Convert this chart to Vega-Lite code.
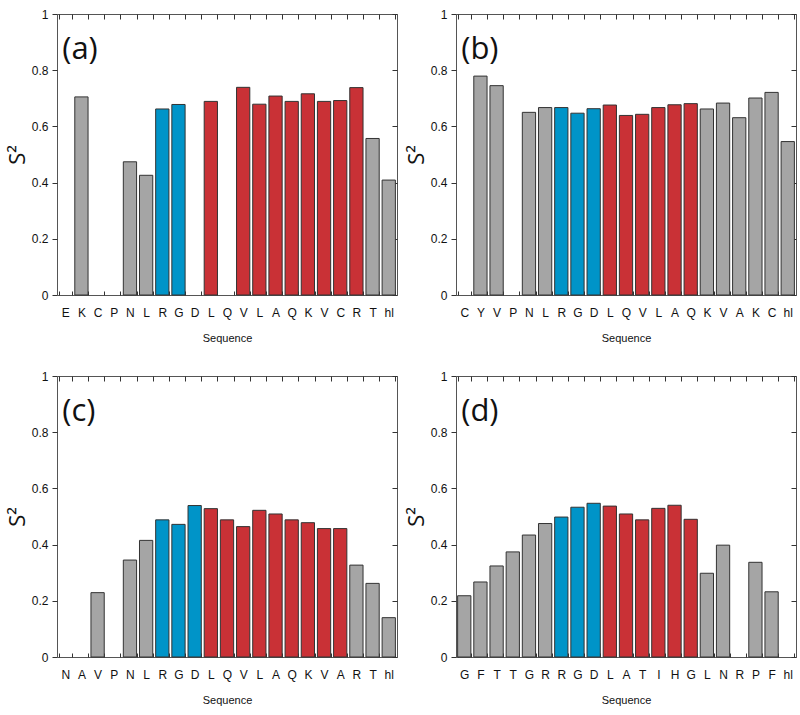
{
  "$schema": "https://vega.github.io/schema/vega-lite/v6.json",
  "padding": {"left": 5, "top": 7, "right": 5, "bottom": 5},
  "background": "white",
  "config": {
    "font": "Liberation Sans",
    "view": {"stroke": "#555555", "strokeWidth": 1},
    "axis": {"domain": false, "grid": false, "ticks": true, "tickColor": "#333333", "tickWidth": 1, "tickOpacity": 1, "zindex": 1, "labelColor": "#111111", "labelFontSize": 12, "titleFontWeight": "normal", "titleColor": "#111111"},
    "concat": {"spacing": 6}
  },
  "data": {"values": [
    {"panel": "a", "key": "01E", "S2": null, "type": "gray"},
    {"panel": "a", "key": "02K", "S2": 0.705, "type": "gray"},
    {"panel": "a", "key": "03C", "S2": null, "type": "gray"},
    {"panel": "a", "key": "04P", "S2": null, "type": "gray"},
    {"panel": "a", "key": "05N", "S2": 0.474, "type": "gray"},
    {"panel": "a", "key": "06L", "S2": 0.426, "type": "gray"},
    {"panel": "a", "key": "07R", "S2": 0.662, "type": "blue"},
    {"panel": "a", "key": "08G", "S2": 0.678, "type": "blue"},
    {"panel": "a", "key": "09D", "S2": null, "type": "gray"},
    {"panel": "a", "key": "10L", "S2": 0.689, "type": "red"},
    {"panel": "a", "key": "11Q", "S2": null, "type": "gray"},
    {"panel": "a", "key": "12V", "S2": 0.739, "type": "red"},
    {"panel": "a", "key": "13L", "S2": 0.679, "type": "red"},
    {"panel": "a", "key": "14A", "S2": 0.708, "type": "red"},
    {"panel": "a", "key": "15Q", "S2": 0.689, "type": "red"},
    {"panel": "a", "key": "16K", "S2": 0.716, "type": "red"},
    {"panel": "a", "key": "17V", "S2": 0.689, "type": "red"},
    {"panel": "a", "key": "18C", "S2": 0.692, "type": "red"},
    {"panel": "a", "key": "19R", "S2": 0.738, "type": "red"},
    {"panel": "a", "key": "20T", "S2": 0.557, "type": "gray"},
    {"panel": "a", "key": "21hl", "S2": 0.409, "type": "gray"},

    {"panel": "b", "key": "01C", "S2": null, "type": "gray"},
    {"panel": "b", "key": "02Y", "S2": 0.779, "type": "gray"},
    {"panel": "b", "key": "03V", "S2": 0.745, "type": "gray"},
    {"panel": "b", "key": "04P", "S2": null, "type": "gray"},
    {"panel": "b", "key": "05N", "S2": 0.650, "type": "gray"},
    {"panel": "b", "key": "06L", "S2": 0.667, "type": "gray"},
    {"panel": "b", "key": "07R", "S2": 0.667, "type": "blue"},
    {"panel": "b", "key": "08G", "S2": 0.647, "type": "blue"},
    {"panel": "b", "key": "09D", "S2": 0.663, "type": "blue"},
    {"panel": "b", "key": "10L", "S2": 0.676, "type": "red"},
    {"panel": "b", "key": "11Q", "S2": 0.639, "type": "red"},
    {"panel": "b", "key": "12V", "S2": 0.643, "type": "red"},
    {"panel": "b", "key": "13L", "S2": 0.667, "type": "red"},
    {"panel": "b", "key": "14A", "S2": 0.677, "type": "red"},
    {"panel": "b", "key": "15Q", "S2": 0.681, "type": "red"},
    {"panel": "b", "key": "16K", "S2": 0.662, "type": "gray"},
    {"panel": "b", "key": "17V", "S2": 0.683, "type": "gray"},
    {"panel": "b", "key": "18A", "S2": 0.631, "type": "gray"},
    {"panel": "b", "key": "19K", "S2": 0.701, "type": "gray"},
    {"panel": "b", "key": "20C", "S2": 0.721, "type": "gray"},
    {"panel": "b", "key": "21hl", "S2": 0.546, "type": "gray"},

    {"panel": "c", "key": "01N", "S2": null, "type": "gray"},
    {"panel": "c", "key": "02A", "S2": null, "type": "gray"},
    {"panel": "c", "key": "03V", "S2": 0.229, "type": "gray"},
    {"panel": "c", "key": "04P", "S2": null, "type": "gray"},
    {"panel": "c", "key": "05N", "S2": 0.345, "type": "gray"},
    {"panel": "c", "key": "06L", "S2": 0.415, "type": "gray"},
    {"panel": "c", "key": "07R", "S2": 0.488, "type": "blue"},
    {"panel": "c", "key": "08G", "S2": 0.472, "type": "blue"},
    {"panel": "c", "key": "09D", "S2": 0.539, "type": "blue"},
    {"panel": "c", "key": "10L", "S2": 0.528, "type": "red"},
    {"panel": "c", "key": "11Q", "S2": 0.488, "type": "red"},
    {"panel": "c", "key": "12V", "S2": 0.464, "type": "red"},
    {"panel": "c", "key": "13L", "S2": 0.522, "type": "red"},
    {"panel": "c", "key": "14A", "S2": 0.509, "type": "red"},
    {"panel": "c", "key": "15Q", "S2": 0.488, "type": "red"},
    {"panel": "c", "key": "16K", "S2": 0.478, "type": "red"},
    {"panel": "c", "key": "17V", "S2": 0.457, "type": "red"},
    {"panel": "c", "key": "18A", "S2": 0.457, "type": "red"},
    {"panel": "c", "key": "19R", "S2": 0.327, "type": "gray"},
    {"panel": "c", "key": "20T", "S2": 0.262, "type": "gray"},
    {"panel": "c", "key": "21hl", "S2": 0.140, "type": "gray"},

    {"panel": "d", "key": "01G", "S2": 0.218, "type": "gray"},
    {"panel": "d", "key": "02F", "S2": 0.267, "type": "gray"},
    {"panel": "d", "key": "03T", "S2": 0.324, "type": "gray"},
    {"panel": "d", "key": "04T", "S2": 0.374, "type": "gray"},
    {"panel": "d", "key": "05G", "S2": 0.434, "type": "gray"},
    {"panel": "d", "key": "06R", "S2": 0.475, "type": "gray"},
    {"panel": "d", "key": "07R", "S2": 0.498, "type": "blue"},
    {"panel": "d", "key": "08G", "S2": 0.533, "type": "blue"},
    {"panel": "d", "key": "09D", "S2": 0.547, "type": "blue"},
    {"panel": "d", "key": "10L", "S2": 0.537, "type": "red"},
    {"panel": "d", "key": "11A", "S2": 0.509, "type": "red"},
    {"panel": "d", "key": "12T", "S2": 0.488, "type": "red"},
    {"panel": "d", "key": "13I", "S2": 0.529, "type": "red"},
    {"panel": "d", "key": "14H", "S2": 0.540, "type": "red"},
    {"panel": "d", "key": "15G", "S2": 0.490, "type": "red"},
    {"panel": "d", "key": "16L", "S2": 0.298, "type": "gray"},
    {"panel": "d", "key": "17N", "S2": 0.398, "type": "gray"},
    {"panel": "d", "key": "18R", "S2": null, "type": "gray"},
    {"panel": "d", "key": "19P", "S2": 0.337, "type": "gray"},
    {"panel": "d", "key": "20F", "S2": 0.232, "type": "gray"},
    {"panel": "d", "key": "21hl", "S2": null, "type": "gray"}
  ]},
  "vconcat": [
    {"hconcat": [
      {
        "width": 340, "height": 281,
        "transform": [{"filter": "datum.panel === 'a'"}],
        "layer": [
          {"mark": {"type": "bar", "stroke": "#333333", "strokeWidth": 1},
           "encoding": {
             "x": {"field": "key", "type": "nominal", "title": "Sequence",
                   "scale": {"domain": ["01E","02K","03C","04P","05N","06L","07R","08G","09D","10L","11Q","12V","13L","14A","15Q","16K","17V","18C","19R","20T","21hl"], "paddingInner": 0.18, "paddingOuter": 0.1},
                   "axis": {"orient": "bottom", "labelExpr": "substring(datum.label, 2)", "labelAngle": 0, "tickBand": "extent", "tickSize": 4, "offset": -4, "labelPadding": 12, "titlePadding": 14, "titleFontSize": 11}},
             "y": {"field": "S2", "type": "quantitative", "title": "S²",
                   "scale": {"domain": [0, 1]},
                   "axis": {"orient": "left", "values": [0, 0.2, 0.4, 0.6, 0.8, 1], "format": "~g", "tickSize": 5, "labelPadding": 4, "titleFontSize": 22, "titleFont": "Open Sans", "titlePadding": 2}},
             "color": {"field": "type", "type": "nominal", "legend": null,
                       "scale": {"domain": ["gray", "blue", "red"], "range": ["#a5a5a5", "#0094c8", "#c93136"]}}
           }},
          {"data": {"values": [{"label": "(a)"}]},
           "mark": {"type": "text", "font": "Open Sans", "fontSize": 31, "align": "left", "baseline": "alphabetic", "dx": -3, "color": "#111111"},
           "encoding": {
             "x": {"datum": "01E", "type": "nominal", "axis": {"orient": "top", "labels": false, "title": null, "tickBand": "extent", "tickSize": 5, "offset": -5}},
             "y": {"datum": 0.84, "type": "quantitative", "axis": {"orient": "right", "labels": false, "title": null, "values": [0, 0.2, 0.4, 0.6, 0.8, 1], "tickSize": 5, "offset": -5}},
             "text": {"field": "label"}
           }}
        ],
        "resolve": {"axis": {"x": "independent", "y": "independent"}}
      },
      {
        "width": 340, "height": 281,
        "transform": [{"filter": "datum.panel === 'b'"}],
        "layer": [
          {"mark": {"type": "bar", "stroke": "#333333", "strokeWidth": 1},
           "encoding": {
             "x": {"field": "key", "type": "nominal", "title": "Sequence",
                   "scale": {"domain": ["01C","02Y","03V","04P","05N","06L","07R","08G","09D","10L","11Q","12V","13L","14A","15Q","16K","17V","18A","19K","20C","21hl"], "paddingInner": 0.18, "paddingOuter": 0.1},
                   "axis": {"orient": "bottom", "labelExpr": "substring(datum.label, 2)", "labelAngle": 0, "tickBand": "extent", "tickSize": 4, "offset": -4, "labelPadding": 12, "titlePadding": 14, "titleFontSize": 11}},
             "y": {"field": "S2", "type": "quantitative", "title": "S²",
                   "scale": {"domain": [0, 1]},
                   "axis": {"orient": "left", "values": [0, 0.2, 0.4, 0.6, 0.8, 1], "format": "~g", "tickSize": 5, "labelPadding": 4, "titleFontSize": 22, "titleFont": "Open Sans", "titlePadding": 2}},
             "color": {"field": "type", "type": "nominal", "legend": null,
                       "scale": {"domain": ["gray", "blue", "red"], "range": ["#a5a5a5", "#0094c8", "#c93136"]}}
           }},
          {"data": {"values": [{"label": "(b)"}]},
           "mark": {"type": "text", "font": "Open Sans", "fontSize": 31, "align": "left", "baseline": "alphabetic", "dx": -3, "color": "#111111"},
           "encoding": {
             "x": {"datum": "01C", "type": "nominal", "axis": {"orient": "top", "labels": false, "title": null, "tickBand": "extent", "tickSize": 5, "offset": -5}},
             "y": {"datum": 0.84, "type": "quantitative", "axis": {"orient": "right", "labels": false, "title": null, "values": [0, 0.2, 0.4, 0.6, 0.8, 1], "tickSize": 5, "offset": -5}},
             "text": {"field": "label"}
           }}
        ],
        "resolve": {"axis": {"x": "independent", "y": "independent"}}
      }
    ]},
    {"hconcat": [
      {
        "width": 340, "height": 281,
        "transform": [{"filter": "datum.panel === 'c'"}],
        "layer": [
          {"mark": {"type": "bar", "stroke": "#333333", "strokeWidth": 1},
           "encoding": {
             "x": {"field": "key", "type": "nominal", "title": "Sequence",
                   "scale": {"domain": ["01N","02A","03V","04P","05N","06L","07R","08G","09D","10L","11Q","12V","13L","14A","15Q","16K","17V","18A","19R","20T","21hl"], "paddingInner": 0.18, "paddingOuter": 0.1},
                   "axis": {"orient": "bottom", "labelExpr": "substring(datum.label, 2)", "labelAngle": 0, "tickBand": "extent", "tickSize": 4, "offset": -4, "labelPadding": 12, "titlePadding": 14, "titleFontSize": 11}},
             "y": {"field": "S2", "type": "quantitative", "title": "S²",
                   "scale": {"domain": [0, 1]},
                   "axis": {"orient": "left", "values": [0, 0.2, 0.4, 0.6, 0.8, 1], "format": "~g", "tickSize": 5, "labelPadding": 4, "titleFontSize": 22, "titleFont": "Open Sans", "titlePadding": 2}},
             "color": {"field": "type", "type": "nominal", "legend": null,
                       "scale": {"domain": ["gray", "blue", "red"], "range": ["#a5a5a5", "#0094c8", "#c93136"]}}
           }},
          {"data": {"values": [{"label": "(c)"}]},
           "mark": {"type": "text", "font": "Open Sans", "fontSize": 31, "align": "left", "baseline": "alphabetic", "dx": -3, "color": "#111111"},
           "encoding": {
             "x": {"datum": "01N", "type": "nominal", "axis": {"orient": "top", "labels": false, "title": null, "tickBand": "extent", "tickSize": 5, "offset": -5}},
             "y": {"datum": 0.84, "type": "quantitative", "axis": {"orient": "right", "labels": false, "title": null, "values": [0, 0.2, 0.4, 0.6, 0.8, 1], "tickSize": 5, "offset": -5}},
             "text": {"field": "label"}
           }}
        ],
        "resolve": {"axis": {"x": "independent", "y": "independent"}}
      },
      {
        "width": 340, "height": 281,
        "transform": [{"filter": "datum.panel === 'd'"}],
        "layer": [
          {"mark": {"type": "bar", "stroke": "#333333", "strokeWidth": 1},
           "encoding": {
             "x": {"field": "key", "type": "nominal", "title": "Sequence",
                   "scale": {"domain": ["01G","02F","03T","04T","05G","06R","07R","08G","09D","10L","11A","12T","13I","14H","15G","16L","17N","18R","19P","20F","21hl"], "paddingInner": 0.18, "paddingOuter": 0.1},
                   "axis": {"orient": "bottom", "labelExpr": "substring(datum.label, 2)", "labelAngle": 0, "tickBand": "extent", "tickSize": 4, "offset": -4, "labelPadding": 12, "titlePadding": 14, "titleFontSize": 11}},
             "y": {"field": "S2", "type": "quantitative", "title": "S²",
                   "scale": {"domain": [0, 1]},
                   "axis": {"orient": "left", "values": [0, 0.2, 0.4, 0.6, 0.8, 1], "format": "~g", "tickSize": 5, "labelPadding": 4, "titleFontSize": 22, "titleFont": "Open Sans", "titlePadding": 2}},
             "color": {"field": "type", "type": "nominal", "legend": null,
                       "scale": {"domain": ["gray", "blue", "red"], "range": ["#a5a5a5", "#0094c8", "#c93136"]}}
           }},
          {"data": {"values": [{"label": "(d)"}]},
           "mark": {"type": "text", "font": "Open Sans", "fontSize": 31, "align": "left", "baseline": "alphabetic", "dx": -3, "color": "#111111"},
           "encoding": {
             "x": {"datum": "01G", "type": "nominal", "axis": {"orient": "top", "labels": false, "title": null, "tickBand": "extent", "tickSize": 5, "offset": -5}},
             "y": {"datum": 0.84, "type": "quantitative", "axis": {"orient": "right", "labels": false, "title": null, "values": [0, 0.2, 0.4, 0.6, 0.8, 1], "tickSize": 5, "offset": -5}},
             "text": {"field": "label"}
           }}
        ],
        "resolve": {"axis": {"x": "independent", "y": "independent"}}
      }
    ]}
  ],
  "spacing": 25
}
